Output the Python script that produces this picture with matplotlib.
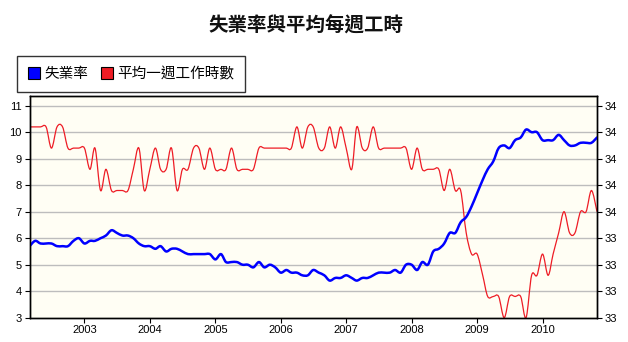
import numpy as np
import pandas as pd
import matplotlib
matplotlib.use('Agg')
import matplotlib.pyplot as plt
import matplotlib.dates as mdates
from matplotlib.path import Path
from matplotlib.patches import PathPatch, Patch

plt.rcParams['font.family'] = ['Noto Sans CJK TC', 'DejaVu Sans']

BLUE = '#0000ff'; RED = '#ee1c25'; PLOT_BG = '#fffef4'; GRID = '#bdbdbd'
NUM_FONT = ['Liberation Sans', 'DejaVu Sans']

# monthly series, Mar 2002 - Nov 2010
months = pd.date_range('2002-03-01', '2010-11-01', freq='MS')

unemployment = [
    5.7, 5.9, 5.8, 5.8, 5.8, 5.7, 5.7, 5.7, 5.9, 6.0,                  # 2002
    5.8, 5.9, 5.9, 6.0, 6.1, 6.3, 6.2, 6.1, 6.1, 6.0, 5.8, 5.7,        # 2003
    5.7, 5.6, 5.7, 5.5, 5.6, 5.6, 5.5, 5.4, 5.4, 5.4, 5.4, 5.4,        # 2004
    5.2, 5.4, 5.1, 5.1, 5.1, 5.0, 5.0, 4.9, 5.1, 4.9, 5.0, 4.9,        # 2005
    4.7, 4.8, 4.7, 4.7, 4.6, 4.6, 4.8, 4.7, 4.6, 4.4, 4.5, 4.5,        # 2006
    4.6, 4.5, 4.4, 4.5, 4.5, 4.6, 4.7, 4.7, 4.7, 4.8, 4.7, 5.0,        # 2007
    5.0, 4.8, 5.1, 5.0, 5.5, 5.6, 5.8, 6.2, 6.2, 6.6, 6.8, 7.2,        # 2008
    7.7, 8.2, 8.6, 8.9, 9.4, 9.5, 9.4, 9.7, 9.8, 10.1, 10.0, 10.0,     # 2009
    9.7, 9.7, 9.7, 9.9, 9.7, 9.5, 9.5, 9.6, 9.6, 9.6, 9.8,             # 2010
]
weekly_hours = [
    33.9, 33.9, 33.9, 33.9, 33.8, 33.9, 33.9, 33.8, 33.8, 33.8,                    # 2002
    33.8, 33.7, 33.8, 33.6, 33.7, 33.6, 33.6, 33.6, 33.6, 33.7, 33.8, 33.6,        # 2003
    33.7, 33.8, 33.7, 33.7, 33.8, 33.6, 33.7, 33.7, 33.8, 33.8, 33.7, 33.8,        # 2004
    33.7, 33.7, 33.7, 33.8, 33.7, 33.7, 33.7, 33.7, 33.8, 33.8, 33.8, 33.8,        # 2005
    33.8, 33.8, 33.8, 33.9, 33.8, 33.9, 33.9, 33.8, 33.8, 33.9, 33.8, 33.9,        # 2006
    33.8, 33.7, 33.9, 33.8, 33.8, 33.9, 33.8, 33.8, 33.8, 33.8, 33.8, 33.8,        # 2007
    33.7, 33.8, 33.7, 33.7, 33.7, 33.7, 33.6, 33.7, 33.6, 33.6, 33.4, 33.3,        # 2008
    33.3, 33.2, 33.1, 33.1, 33.1, 33.0, 33.1, 33.1, 33.1, 33.0, 33.2, 33.2,        # 2009
    33.3, 33.2, 33.3, 33.4, 33.5, 33.4, 33.4, 33.5, 33.5, 33.6, 33.5,              # 2010
]

years = list(range(2003, 2011))
left_ticks = list(range(3, 12))
hours_ticks = [33 + k * 0.125 for k in range(9)]


def smooth_path(x, y):
    # Catmull-Rom through the monthly points, expressed as cubic Bezier segments
    x = np.asarray(x, float); y = np.asarray(y, float); n = len(x)
    verts = [(x[0], y[0])]; codes = [Path.MOVETO]
    for i in range(n - 1):
        a = max(i - 1, 0); d = min(i + 2, n - 1)
        c1 = (x[i] + (x[i + 1] - x[a]) / 6, y[i] + (y[i + 1] - y[a]) / 6)
        c2 = (x[i + 1] - (x[d] - x[i]) / 6, y[i + 1] - (y[d] - y[i]) / 6)
        verts += [c1, c2, (x[i + 1], y[i + 1])]
        codes += [Path.CURVE4] * 3
    return Path(verts, codes)


fig = plt.figure(figsize=(6.28, 3.42), dpi=100, facecolor='white')
W, H = 628, 342
left, right, top, bottom = 29.6, 597, 96, 317.7
ax = fig.add_axes([left / W, 1 - bottom / H, (right - left) / W, (bottom - top) / H])
ax2 = ax.twinx()

y_top = 3 + (105.7 - top) / ((bottom - 105.7) / 8) + 8
ax.set_ylim(3, y_top)
ax2.set_ylim(33, 33 + (y_top - 3) * 0.125)
xd = mdates.date2num(months.to_pydatetime())
ax.set_xlim(xd[0], xd[-1])

# blue on top of red; background and grid live on the right-hand axes
ax.set_zorder(ax2.get_zorder() + 1)
ax.patch.set_visible(False)
ax2.patch.set_visible(True)
ax2.patch.set_facecolor(PLOT_BG)
for t in hours_ticks[1:]:
    ax2.axhline(t, color=GRID, lw=1.0, zorder=0)

ax2.add_patch(PathPatch(smooth_path(xd, weekly_hours), fill=False, edgecolor=RED, lw=0.9))
ax.add_patch(PathPatch(smooth_path(xd, unemployment), fill=False, edgecolor=BLUE, lw=1.8,
                       capstyle='round', joinstyle='round'))

ax.set_xticks(mdates.date2num([pd.Timestamp(f'{y}-01-01') for y in years]))
ax.set_xticklabels([str(y) for y in years], fontfamily=NUM_FONT, fontsize=8)
ax.set_yticks(left_ticks)
ax.set_yticklabels([str(v) for v in left_ticks], fontfamily=NUM_FONT, fontsize=8)
ax2.set_yticks(hours_ticks)
ax2.set_yticklabels([str(int(v + 0.5)) for v in hours_ticks], fontfamily=NUM_FONT, fontsize=8)
for a in (ax, ax2):
    a.tick_params(direction='out', length=3.5, width=0.8, color='black', pad=2)
    for s in a.spines.values():
        s.set_color('black'); s.set_linewidth(1.0)

fig.text(0.487, 1 - 26 / H, '失業率與平均每週工時', ha='center', va='center',
         fontsize=14, fontweight='bold', color='#111111')

handles = [Patch(facecolor=BLUE, edgecolor='black', lw=0.8, label='失業率'),
           Patch(facecolor=RED, edgecolor='black', lw=0.8, label='平均一週工作時數')]
leg = fig.legend(handles=handles, loc='upper left', bbox_to_anchor=(17 / W, 1 - 56 / H),
                 ncol=2, fontsize=10.5, frameon=True, fancybox=False, borderpad=0.75,
                 handlelength=0.8, handleheight=0.8, handletextpad=0.3, columnspacing=0.9,
                 borderaxespad=0)
leg.get_frame().set_edgecolor('black')
leg.get_frame().set_linewidth(1.0)

fig.savefig('out.png', dpi=100)
